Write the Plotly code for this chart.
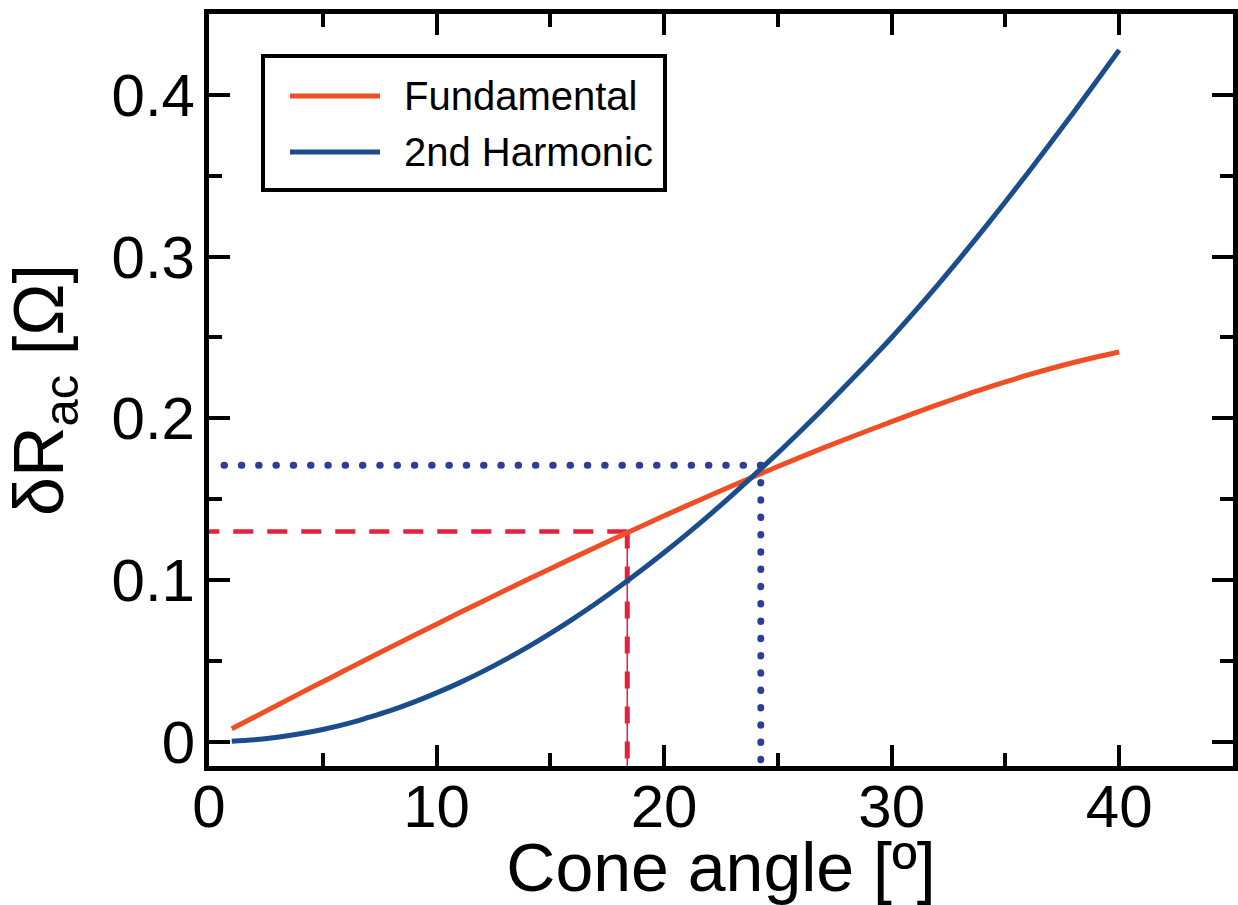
import plotly.graph_objects as go

# ---- data ----
angle = list(range(1, 41))
fundamental = [0.0080, 0.0153, 0.0226, 0.0299, 0.0371, 0.0443, 0.0515, 0.0586, 0.0657, 0.0727,
               0.0797, 0.0866, 0.0935, 0.1003, 0.1070, 0.1137, 0.1203, 0.1268, 0.1333, 0.1397,
               0.1460, 0.1522, 0.1583, 0.1643, 0.1702, 0.1760, 0.1817, 0.1872, 0.1926, 0.1979,
               0.2032, 0.2083, 0.2132, 0.2180, 0.2225, 0.2268, 0.2308, 0.2345, 0.2379, 0.2410]
harmonic2 = [0.0003, 0.0012, 0.0028, 0.0049, 0.0076, 0.0109, 0.0150, 0.0194, 0.0245, 0.0302,
             0.0364, 0.0432, 0.0506, 0.0585, 0.0670, 0.0760, 0.0855, 0.0955, 0.1060, 0.1170,
             0.1284, 0.1403, 0.1527, 0.1655, 0.1786, 0.1922, 0.2061, 0.2204, 0.2350, 0.2500,
             0.2658, 0.2821, 0.2989, 0.3162, 0.3339, 0.3520, 0.3705, 0.3893, 0.4084, 0.4277]

fund_guide_x, fund_guide_y = 18.38, 0.130
harm_guide_x, harm_guide_y = 24.25, 0.171

x_range = [0, 45]
y_range = [-0.015, 0.45]
x_ticks = [0, 10, 20, 30, 40]
y_ticks = [0, 0.1, 0.2, 0.3, 0.4]
y_ticklabels = ["0", "0.1", "0.2", "0.3", "0.4"]

ORANGE = "#F04E24"
BLUE = "#1B4C8C"
RED = "#E8213A"
DOTBLUE = "#2E3D98"
FONT = "Liberation Sans, Arial"

fig = go.Figure()

# guide lines (anchored at the corner point so the dash pattern starts there)
fig.add_trace(go.Scatter(x=[fund_guide_x, x_range[0]], y=[fund_guide_y, fund_guide_y],
                         mode="lines", line=dict(color=RED, width=4.5, dash="20px,14px"),
                         showlegend=False, hoverinfo="skip"))
fig.add_trace(go.Scatter(x=[fund_guide_x, fund_guide_x], y=[fund_guide_y, y_range[0]],
                         mode="lines", line=dict(color=RED, width=1.5),
                         showlegend=False, hoverinfo="skip"))
fig.add_trace(go.Scatter(x=[fund_guide_x, fund_guide_x], y=[fund_guide_y, y_range[0]],
                         mode="lines", line=dict(color=RED, width=5, dash="17px,18px"),
                         showlegend=False, hoverinfo="skip"))
fig.add_trace(go.Scatter(x=[harm_guide_x, x_range[0]], y=[harm_guide_y, harm_guide_y],
                         mode="lines", line=dict(color=DOTBLUE, width=7, dash="0.5px,16.8px"),
                         showlegend=False, hoverinfo="skip"))
fig.add_trace(go.Scatter(x=[harm_guide_x, harm_guide_x], y=[harm_guide_y, y_range[0]],
                         mode="lines", line=dict(color=DOTBLUE, width=7, dash="0.5px,16.8px"),
                         showlegend=False, hoverinfo="skip"))

fig.add_trace(go.Scatter(x=angle, y=fundamental, mode="lines", name="Fundamental",
                         line=dict(color=ORANGE, width=5, shape="spline", smoothing=1.0),
                         showlegend=False))
fig.add_trace(go.Scatter(x=angle, y=harmonic2, mode="lines", name="2nd Harmonic",
                         line=dict(color=BLUE, width=5, shape="spline", smoothing=1.0),
                         showlegend=False))

# manual legend (paper coordinates)
L, R, T, B = 209, 1233, 14, 766
def px(xp):
    return (xp - L) / (R - L)
def py(yp):
    return (B - yp) / (B - T)

fig.add_shape(type="rect", xref="paper", yref="paper",
              x0=px(263), x1=px(665), y0=py(190), y1=py(56),
              line=dict(color="black", width=4), fillcolor="white", layer="above")
legend_items = [("Fundamental", ORANGE, 96), ("2nd Harmonic", BLUE, 152)]
for label, color, yp in legend_items:
    fig.add_shape(type="line", xref="paper", yref="paper",
                  x0=px(290), x1=px(380), y0=py(yp), y1=py(yp),
                  line=dict(color=color, width=5), layer="above")
    fig.add_annotation(xref="paper", yref="paper", x=px(402), y=py(yp),
                       xanchor="left", yanchor="middle", text=label, showarrow=False,
                       font=dict(size=40, color="black", family=FONT))

axis_common = dict(showline=True, linewidth=5, linecolor="black", mirror="allticks",
                   ticks="inside", ticklen=21, tickwidth=4, tickcolor="black",
                   showgrid=False, zeroline=False,
                   tickfont=dict(size=60, color="black", family=FONT))

fig.update_xaxes(range=x_range, tickvals=x_ticks,
                 minor=dict(dtick=5, ticks="inside", ticklen=13, tickwidth=4, tickcolor="black", showgrid=False),
                 title=dict(text="Cone angle [º]", standoff=44,
                            font=dict(size=68, color="black", family=FONT)),
                 ticklabelstandoff=-16, **axis_common)
fig.update_yaxes(range=y_range, tickvals=y_ticks, ticktext=y_ticklabels,
                 minor=dict(tickvals=[0.05, 0.15, 0.25, 0.35], ticks="inside", ticklen=13, tickwidth=4,
                            tickcolor="black", showgrid=False),
                 title=dict(text="δR<sub>ac</sub> [Ω]", standoff=30,
                            font=dict(size=70, color="black", family=FONT)),
                 ticklabelstandoff=-3, **axis_common)

fig.update_layout(width=1238, height=905, margin=dict(l=209, r=5, t=14, b=139, autoexpand=False),
                  plot_bgcolor="white", paper_bgcolor="white", showlegend=False)

# round line caps so the dotted guides render as round dots
post = """
var gd = document.getElementById('{plot_id}');
function roundCaps(){
  var traces = gd.querySelectorAll('.scatterlayer .trace');
  [3,4].forEach(function(i){
    if(traces[i]){
      traces[i].querySelectorAll('path.js-line').forEach(function(p){
        p.style.strokeLinecap = 'round';
      });
    }
  });
}
roundCaps();
gd.on('plotly_afterplot', roundCaps);
"""
fig.write_html("out.html", post_script=post)
